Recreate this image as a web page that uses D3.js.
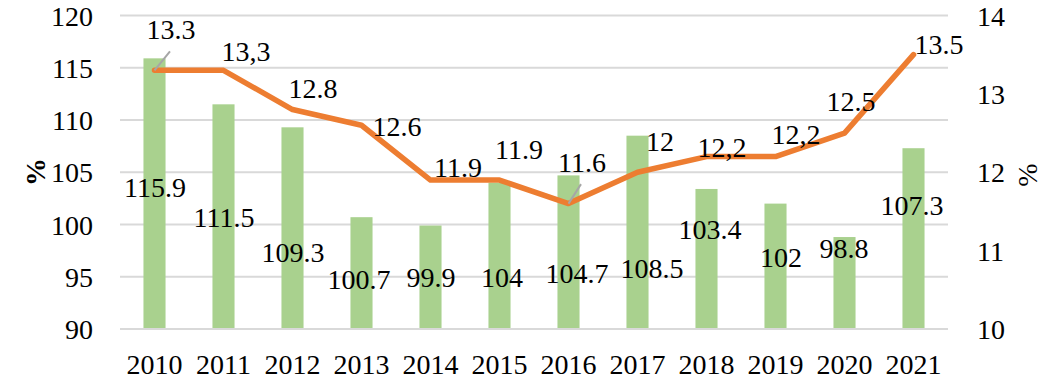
<!DOCTYPE html>
<html>
<head>
<meta charset="utf-8">
<script src="https://cdn.jsdelivr.net/npm/d3@7"></script>
</head>
<body style="margin:0">
<div id="chart"></div>
<script>
// data
const years = ['2010', '2011', '2012', '2013', '2014', '2015', '2016', '2017', '2018', '2019', '2020', '2021'];
const barValues = [115.9, 111.5, 109.3, 100.7, 99.9, 104, 104.7, 108.5, 103.4, 102, 98.8, 107.3];
const barLabels = ['115.9', '111.5', '109.3', '100.7', '99.9', '104', '104.7', '108.5', '103.4', '102', '98.8', '107.3'];
const lineValues = [13.3, 13.3, 12.8, 12.6, 11.9, 11.9, 11.6, 12.0, 12.2, 12.2, 12.5, 13.5];
const lineLabels = ['13.3', '13,3', '12.8', '12.6', '11.9', '11.9', '11.6', '12', '12,2', '12,2', '12.5', '13.5'];
const leftTicks = [90, 95, 100, 105, 110, 115, 120];
const rightTicks = [10, 11, 12, 13, 14];

// label placement (offsets from the mark, hand-moved in the original)
const lineLabelOffsets = [[16.5, -41], [22.5, -19], [20.5, -21.5], [35.5, 1], [27.5, -13], [19.5, -31],
  [13.5, -41.5], [22.5, -31], [15.5, -9.5], [20.5, -22.5], [6.5, -32], [25.5, -10.5]];
const leaderLines = [true, false, false, false, false, false, true, false, false, false, false, false];
const barLabelOffsets = [[0.5, 128.7], [0.5, 112.7], [0.5, 124.7], [-2.5, 61.8], [0.5, 51.5], [2.5, 94.3],
  [8.5, 97.6], [14.5, 133.3], [3.5, 41], [5.5, 53.4], [-0.5, 11], [-1.5, 56.8]];

////////////////////////////////////////
////////////// SVG Setup ///////////////
////////////////////////////////////////

const width = 1048, height = 390;
const plot = { left: 120, right: 948, top: 15.5, bottom: 329 };
const fontSize = 28;
const font = 'Liberation Serif';

const svg = d3.select('#chart').append('svg')
  .attr('width', width)
  .attr('height', height);

const x = d3.scaleBand()
  .domain(years)
  .range([plot.left, plot.right])
  .paddingInner(0.68)
  .paddingOuter(0.34);

const yL = d3.scaleLinear().domain([90, 120]).range([plot.bottom, plot.top]);
const yR = d3.scaleLinear().domain([10, 14]).range([plot.bottom, plot.top]);

const cx = d => x(d) + x.bandwidth() / 2;

// gridlines
svg.append('g')
  .selectAll('line')
  .data(leftTicks)
  .join('line')
  .attr('x1', plot.left)
  .attr('x2', plot.right)
  .attr('y1', d => yL(d))
  .attr('y2', d => yL(d))
  .attr('stroke', '#D9D9D9')
  .attr('stroke-width', 2);

const styleAxis = (g) => {
  g.attr('font-family', font).attr('font-size', fontSize);
  g.select('.domain').remove();
  g.selectAll('text')
    .attr('fill', '#000')
    .attr('font-family', font)
    .attr('font-size', fontSize);
}

// left axis
svg.append('g')
  .attr('transform', `translate(${plot.left - 27},0)`)
  .call(d3.axisLeft(yL).tickValues(leftTicks).tickSize(0).tickPadding(0))
  .call(styleAxis)
  .selectAll('text')
  .attr('dy', '0.34em');

// right axis
svg.append('g')
  .attr('transform', `translate(${plot.right + 29},0)`)
  .call(d3.axisRight(yR).tickValues(rightTicks).tickFormat(d3.format('d')).tickSize(0).tickPadding(0))
  .call(styleAxis)
  .selectAll('text')
  .attr('dy', '0.34em');

// bottom axis
svg.append('g')
  .attr('transform', `translate(0,${plot.bottom})`)
  .call(d3.axisBottom(x).tickSize(0).tickPadding(0))
  .call(styleAxis)
  .selectAll('text')
  .attr('y', 45)
  .attr('dy', 0);

// axis titles
svg.append('text')
  .attr('transform', `translate(45,172) rotate(-90)`)
  .attr('text-anchor', 'middle')
  .attr('font-family', font)
  .attr('font-size', fontSize)
  .attr('font-weight', 'bold')
  .text('%');

svg.append('text')
  .attr('transform', `translate(1037,175) rotate(-90)`)
  .attr('text-anchor', 'middle')
  .attr('font-family', font)
  .attr('font-size', fontSize)
  .text('%');

////////////////////////////////////////
//////////////// Bars //////////////////
////////////////////////////////////////

svg.append('g')
  .selectAll('rect')
  .data(years)
  .join('rect')
  .attr('x', d => x(d))
  .attr('width', x.bandwidth())
  .attr('y', (d, i) => yL(barValues[i]))
  .attr('height', (d, i) => plot.bottom - 1 - yL(barValues[i]))
  .attr('fill', '#A9D18E');

////////////////////////////////////////
//////////////// Line //////////////////
////////////////////////////////////////

const line = d3.line()
  .x((d, i) => cx(years[i]))
  .y(d => yR(d));

svg.append('path')
  .datum(lineValues)
  .attr('d', line)
  .attr('fill', 'none')
  .attr('stroke', '#ED7D31')
  .attr('stroke-width', 5.5)
  .attr('stroke-linejoin', 'round')
  .attr('stroke-linecap', 'round');

// leader lines
svg.append('g')
  .selectAll('line')
  .data(years.filter((d, i) => leaderLines[i]))
  .join('line')
  .attr('x1', d => cx(d))
  .attr('y1', d => yR(lineValues[years.indexOf(d)]))
  .attr('x2', d => cx(d) + lineLabelOffsets[years.indexOf(d)][0] - 1)
  .attr('y2', d => yR(lineValues[years.indexOf(d)]) + lineLabelOffsets[years.indexOf(d)][1] + 22)
  .attr('stroke', '#A6A6A6')
  .attr('stroke-width', 2);

////////////////////////////////////////
/////////////// Labels /////////////////
////////////////////////////////////////

svg.append('g')
  .selectAll('text')
  .data(years)
  .join('text')
  .attr('x', (d, i) => cx(d) + barLabelOffsets[i][0])
  .attr('y', (d, i) => yL(barValues[i]) + barLabelOffsets[i][1])
  .attr('dy', '0.34em')
  .attr('text-anchor', 'middle')
  .attr('font-family', font)
  .attr('font-size', fontSize)
  .text((d, i) => barLabels[i]);

svg.append('g')
  .selectAll('text')
  .data(years)
  .join('text')
  .attr('x', (d, i) => cx(d) + lineLabelOffsets[i][0])
  .attr('y', (d, i) => yR(lineValues[i]) + lineLabelOffsets[i][1])
  .attr('dy', '0.34em')
  .attr('text-anchor', 'middle')
  .attr('font-family', font)
  .attr('font-size', fontSize)
  .text((d, i) => lineLabels[i]);
</script>
</body>
</html>
